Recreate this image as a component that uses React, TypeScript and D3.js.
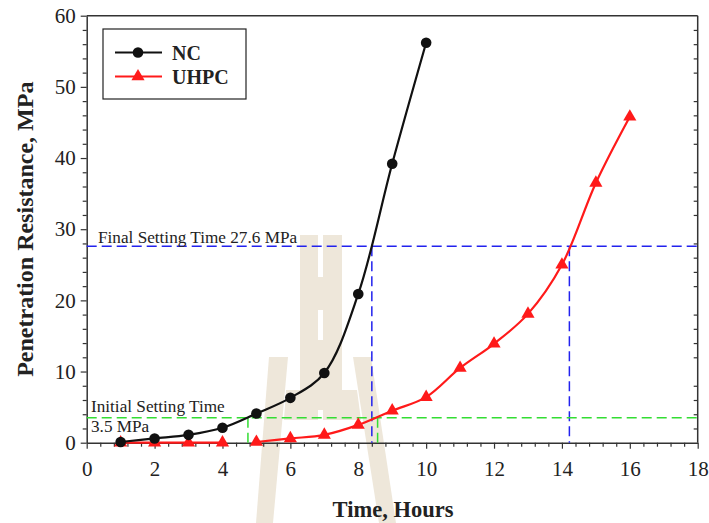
import { useEffect, useRef } from 'react'
import * as d3 from 'd3'

// NC: penetration resistance (MPa) vs time (hours)
const ncTime = [1, 2, 3, 4, 5, 6, 7, 8, 9, 10]
const ncValue = [0.1, 0.6, 1.1, 2.1, 4.1, 6.3, 9.8, 20.9, 39.2, 56.2]

// UHPC: first part stays at zero, second part rises
const uhpcTimeA = [1, 2, 3, 4]
const uhpcValueA = [0, 0, 0, 0]
const uhpcTimeB = [5, 6, 7, 8, 9, 10, 11, 12, 13, 14, 15, 16]
const uhpcValueB = [0.1, 0.6, 1.1, 2.5, 4.5, 6.4, 10.5, 13.9, 18.1, 25.0, 36.5, 45.8]

const xTicks = [0, 2, 4, 6, 8, 10, 12, 14, 16, 18]
const yTicks = [0, 10, 20, 30, 40, 50, 60]

// setting-time guide lines
const finalStress = 27.6
const finalTimes = [8.4, 14.22]
const initialStress = 3.5
const initialTimes = [4.75, 8.57]

const W = 709
const H = 523

function App() {
  const svgRef = useRef(null)

  useEffect(() => {
    const svg = d3.select(svgRef.current)
    svg.selectAll('*').remove()
    svg.attr('width', W).attr('height', H)

    const x = d3.scaleLinear().domain([0, 18]).range([86.7, 697.7])
    const y = d3.scaleLinear().domain([0, 60]).range([442.7, 15.7])
    const serif = '"Liberation Serif", "Times New Roman", serif'
    const axisCol = '#333'

    svg.append('rect').attr('width', W).attr('height', H).attr('fill', '#fff')

    // watermark
    const wm = svg.append('g').attr('fill', '#eee7da')
    const polys = [
      [[300, 235], [318, 235], [318, 420], [300, 420]],
      [[323, 235], [342, 235], [342, 420], [323, 420]],
      [[317, 277], [324, 277], [324, 310], [317, 310]],
      [[317, 340], [324, 340], [324, 410], [317, 410]],
      [[269, 357], [288, 357], [273, 523], [256, 523]],
      [[286, 390], [301, 390], [301, 420], [284, 420]],
      [[353, 357], [371, 357], [396, 523], [379, 523]],
      [[341, 390], [357, 390], [361, 420], [341, 420]],
    ]
    polys.forEach(p => {
      wm.append('polygon').attr('points', p.map(d => d.join(',')).join(' '))
    })

    // frame: top line and right axis
    svg.append('line')
      .attr('x1', x(0)).attr('x2', x(18)).attr('y1', y(60)).attr('y2', y(60))
      .attr('stroke', axisCol).attr('stroke-width', 1.5)
    svg.append('line')
      .attr('x1', x(18)).attr('x2', x(18)).attr('y1', y(60)).attr('y2', y(0))
      .attr('stroke', axisCol).attr('stroke-width', 1.5)

    const yMinor = d3.range(2, 60, 2).filter(v => v % 10 !== 0)
    const xMinor = d3.range(0.4, 18, 0.4).filter(v => Math.abs(v / 2 - Math.round(v / 2)) > 0.01)

    // right axis, minor ticks inward
    svg.append('g')
      .attr('transform', `translate(${x(18)},0)`)
      .call(d3.axisLeft(y).tickValues(yMinor).tickSize(4).tickFormat(() => ''))
      .call(ax => ax.select('.domain').remove())
      .call(ax => ax.selectAll('line').attr('stroke', axisCol).attr('stroke-width', 1.2))

    // left axis
    svg.append('g')
      .attr('transform', `translate(${x(0)},0)`)
      .call(d3.axisLeft(y).tickValues(yMinor).tickSize(4).tickFormat(() => ''))
      .call(ax => ax.select('.domain').remove())
      .call(ax => ax.selectAll('line').attr('stroke', axisCol).attr('stroke-width', 1.2))
    svg.append('g')
      .attr('transform', `translate(${x(0)},0)`)
      .call(d3.axisLeft(y).tickValues(yTicks).tickSize(6).tickPadding(5).tickSizeOuter(0))
      .call(ax => ax.select('.domain').attr('stroke', axisCol).attr('stroke-width', 1.5))
      .call(ax => ax.selectAll('line').attr('stroke', axisCol).attr('stroke-width', 1.2))
      .call(ax => ax.selectAll('text').attr('fill', '#222').attr('font-size', '21px')
        .attr('font-family', serif))

    // bottom axis
    svg.append('g')
      .attr('transform', `translate(0,${y(0)})`)
      .call(d3.axisBottom(x).tickValues(xMinor).tickSize(4).tickFormat(() => ''))
      .call(ax => ax.select('.domain').remove())
      .call(ax => ax.selectAll('line').attr('stroke', axisCol).attr('stroke-width', 1.2))
    svg.append('g')
      .attr('transform', `translate(0,${y(0)})`)
      .call(d3.axisBottom(x).tickValues(xTicks).tickSize(6).tickPadding(12).tickSizeOuter(0))
      .call(ax => ax.select('.domain').attr('stroke', axisCol).attr('stroke-width', 1.5))
      .call(ax => ax.selectAll('line').attr('stroke', axisCol).attr('stroke-width', 1.2))
      .call(ax => ax.selectAll('text').attr('fill', '#222').attr('font-size', '21px')
        .attr('font-family', serif))

    // axis titles
    svg.append('text')
      .attr('x', 393).attr('y', 517)
      .attr('text-anchor', 'middle')
      .attr('font-family', serif).attr('font-weight', 'bold').attr('font-size', '22.5px')
      .attr('fill', '#222')
      .text('Time, Hours')
    svg.append('text')
      .attr('transform', `translate(33,${(y(0) + y(60)) / 2}) rotate(-90)`)
      .attr('text-anchor', 'middle')
      .attr('font-family', serif).attr('font-weight', 'bold').attr('font-size', '24px')
      .attr('fill', '#222')
      .text('Penetration Resistance, MPa')

    // guide lines
    const guide = (x1, x2, y1, y2, col) => svg.append('line')
      .attr('x1', x(x1)).attr('x2', x(x2)).attr('y1', y(y1)).attr('y2', y(y2))
      .attr('stroke', col).attr('stroke-width', 1.5).attr('stroke-dasharray', '10,5')
    const blue = '#2222ee'
    const green = '#33dd33'
    guide(0, 18, finalStress, finalStress, blue)
    finalTimes.forEach(t => guide(t, t, finalStress, 0, blue))
    guide(0, 18, initialStress, initialStress, green)
    initialTimes.forEach(t => guide(t, t, initialStress, 0, green))

    svg.append('text')
      .attr('x', 98).attr('y', 243)
      .attr('font-family', serif).attr('font-size', '17.2px').attr('fill', '#222')
      .text('Final Setting Time 27.6 MPa')
    svg.append('text')
      .attr('x', 91).attr('y', 412)
      .attr('font-family', serif).attr('font-size', '17.2px').attr('fill', '#222')
      .text('Initial Setting Time')
    svg.append('text')
      .attr('x', 91).attr('y', 432)
      .attr('font-family', serif).attr('font-size', '17.2px').attr('fill', '#222')
      .text('3.5 MPa')

    // series
    const line = d3.line().x(d => x(d[0])).y(d => y(d[1])).curve(d3.curveCatmullRom)
    const nc = ncTime.map((t, i) => [t, ncValue[i]])
    const uA = uhpcTimeA.map((t, i) => [t, uhpcValueA[i]])
    const uB = uhpcTimeB.map((t, i) => [t, uhpcValueB[i]])

    svg.append('path').attr('d', line(uA)).attr('fill', 'none')
      .attr('stroke', '#ff1a1a').attr('stroke-width', 2.2)
    svg.append('path').attr('d', line(uB)).attr('fill', 'none')
      .attr('stroke', '#ff1a1a').attr('stroke-width', 2.2)
    svg.append('path').attr('d', line(nc)).attr('fill', 'none')
      .attr('stroke', '#111').attr('stroke-width', 2.2)

    const tri = d3.symbol().type(d3.symbolTriangle).size(75)
    svg.append('g').selectAll('path').data([...uA, ...uB]).join('path')
      .attr('d', tri)
      .attr('transform', d => `translate(${x(d[0])},${y(d[1])})`)
      .attr('fill', '#ff1a1a')
    svg.append('g').selectAll('circle').data(nc).join('circle')
      .attr('cx', d => x(d[0])).attr('cy', d => y(d[1])).attr('r', 5.3)
      .attr('fill', '#111')

    // legend
    const lg = svg.append('g')
    lg.append('rect').attr('x', 103).attr('y', 29).attr('width', 143).attr('height', 70)
      .attr('fill', '#fff').attr('stroke', '#222').attr('stroke-width', 1.2)
    const items = [
      { name: 'NC', col: '#111', y: 52.5, mark: 'circle' },
      { name: 'UHPC', col: '#ff1a1a', y: 76.5, mark: 'tri' },
    ]
    items.forEach(it => {
      lg.append('line').attr('x1', 115).attr('x2', 162).attr('y1', it.y).attr('y2', it.y)
        .attr('stroke', it.col).attr('stroke-width', 2.2)
      if (it.mark === 'circle') {
        lg.append('circle').attr('cx', 138).attr('cy', it.y).attr('r', 5.3).attr('fill', it.col)
      } else {
        lg.append('path').attr('d', tri).attr('transform', `translate(138,${it.y})`).attr('fill', it.col)
      }
      lg.append('text').attr('x', 172).attr('y', it.y + 7)
        .attr('font-family', serif).attr('font-weight', 'bold').attr('font-size', '20px')
        .attr('fill', '#222')
        .text(it.name)
    })
  }, [])

  return <svg ref={svgRef} style={{ position: 'absolute', left: 0, top: 0, display: 'block' }} />
}

export default App
